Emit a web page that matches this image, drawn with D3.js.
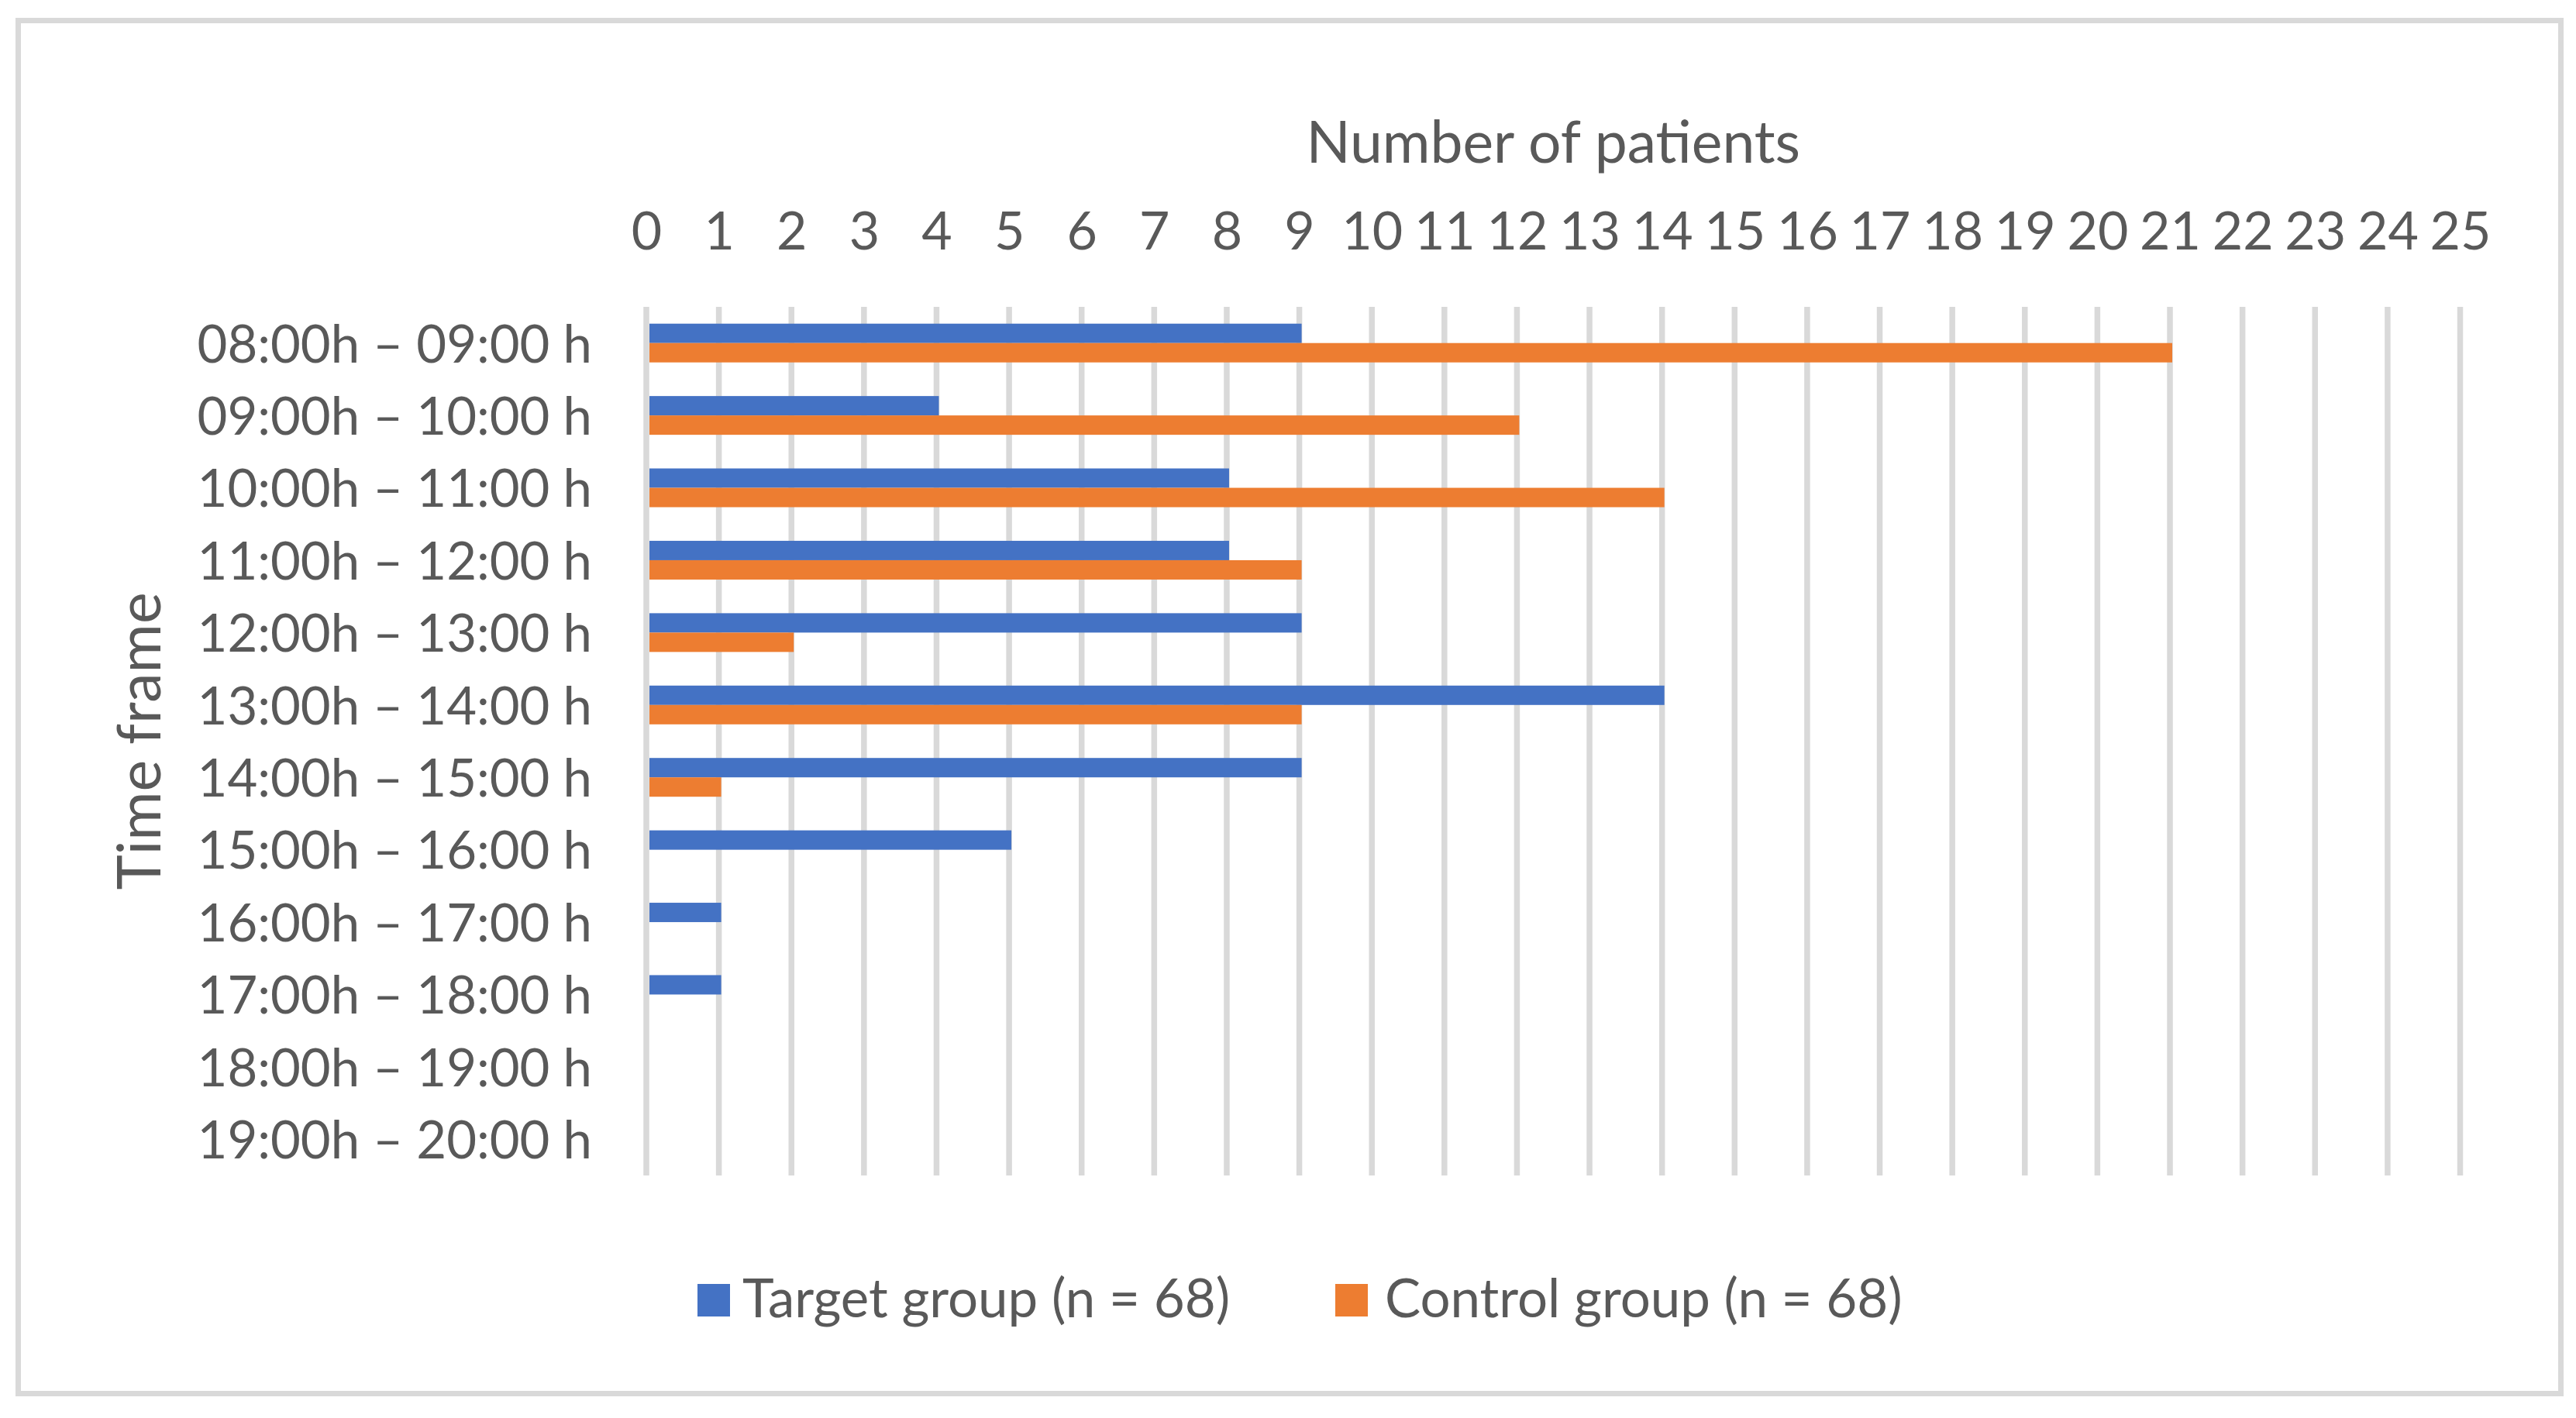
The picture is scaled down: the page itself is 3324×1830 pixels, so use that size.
<!DOCTYPE html>
<html>
<head>
<meta charset="utf-8">
<script src="https://cdn.jsdelivr.net/npm/d3@7"></script>
<style>
  body { margin: 0; background: #fff; }
  text { font-family: Lato, "Open Sans", sans-serif; fill: #595959; }
</style>
</head>
<body>
<div id="chart"></div>
<script>
// Data
let timeFrames = ['08:00h – 09:00 h', '09:00h – 10:00 h', '10:00h – 11:00 h', '11:00h – 12:00 h',
                  '12:00h – 13:00 h', '13:00h – 14:00 h', '14:00h – 15:00 h', '15:00h – 16:00 h',
                  '16:00h – 17:00 h', '17:00h – 18:00 h', '18:00h – 19:00 h', '19:00h – 20:00 h']
let targetValues = [9, 4, 8, 8, 9, 14, 9, 5, 1, 1, 0, 0]
let controlValues = [21, 12, 14, 9, 2, 9, 1, 0, 0, 0, 0, 0]
let seriesNames = ['Target group (n = 68)', 'Control group (n = 68)']
let seriesColors = ['#4472C4', '#ED7D31']
let xTicks = d3.range(0, 26)

var W = 3324, H = 1830

var svg = d3.select('#chart').append('svg')
    .attr('width', W)
    .attr('height', H)

// chart area border
svg.append('rect')
    .attr('x', 23.5).attr('y', 26.5)
    .attr('width', 3281).attr('height', 1772)
    .attr('fill', 'none')
    .attr('stroke', '#d9d9d9')
    .attr('stroke-width', 7)

var plot = {left: 834, right: 3174.5, top: 396, bottom: 1517}

var x = d3.scaleLinear()
    .domain([0, 25])
    .range([plot.left, plot.right])

var y = d3.scaleBand()
    .domain(timeFrames)
    .range([plot.top, plot.bottom])

// inner band for the two groups
var ySub = d3.scaleBand()
    .domain([0, 1])
    .range([0, y.bandwidth()])
    .paddingOuter(0.868)

// vertical gridlines
svg.append('g')
    .selectAll('line')
    .data(xTicks)
    .enter()
    .append('line')
    .attr('x1', d => x(d)).attr('x2', d => x(d))
    .attr('y1', plot.top).attr('y2', plot.bottom)
    .attr('stroke', '#d9d9d9')
    .attr('stroke-width', 7.5)

// bars
let rows = timeFrames.map((t, i) => ({t: t, vals: [targetValues[i], controlValues[i]]}))

var groups = svg.append('g')
    .selectAll('g')
    .data(rows)
    .enter()
    .append('g')
    .attr('transform', d => 'translate(0,' + y(d.t) + ')')

groups.selectAll('rect')
    .data(d => d.vals.map((v, k) => ({v: v, k: k})).filter(e => e.v > 0))
    .enter()
    .append('rect')
    .attr('x', x(0) + 4)
    .attr('y', d => ySub(d.k))
    .attr('width', d => x(d.v) - x(0) - 1)
    .attr('height', ySub.bandwidth())
    .attr('fill', d => seriesColors[d.k])

// top axis labels
var xAxis = svg.append('g')
    .attr('transform', 'translate(0,' + plot.top + ')')
    .call(d3.axisTop(x).tickValues(xTicks).tickSize(0).tickPadding(74).tickFormat(d3.format('d')))
xAxis.select('.domain').remove()
xAxis.selectAll('text')
    .style('font-size', '68px')
    .attr('fill', '#595959')

// left axis labels
var yAxis = svg.append('g')
    .attr('transform', 'translate(' + plot.left + ',0)')
    .call(d3.axisLeft(y).tickSize(0).tickPadding(70))
yAxis.select('.domain').remove()
yAxis.selectAll('text')
    .style('font-size', '67px')
    .attr('dy', '0.37em')
    .attr('fill', '#595959')

// axis titles
svg.append('text')
    .attr('x', (plot.left + plot.right) / 2)
    .attr('y', 210)
    .attr('text-anchor', 'middle')
    .style('font-size', '75px')
    .text('Number of patients')

svg.append('text')
    .attr('transform', 'translate(207,' + (plot.top + plot.bottom) / 2 + ') rotate(-90)')
    .attr('text-anchor', 'middle')
    .style('font-size', '77px')
    .text('Time frame')

// legend
var legendX = [900, 1723]
var legend = svg.append('g')
    .selectAll('g')
    .data(seriesNames)
    .enter()
    .append('g')
    .attr('transform', (d, i) => 'translate(' + legendX[i] + ',1657)')

legend.append('rect')
    .attr('width', 42).attr('height', 42)
    .attr('fill', (d, i) => seriesColors[i])

legend.append('text')
    .attr('x', (d, i) => i === 0 ? 58 : 64)
    .attr('y', 43)
    .style('font-size', '69px')
    .text(d => d)
</script>
</body>
</html>
